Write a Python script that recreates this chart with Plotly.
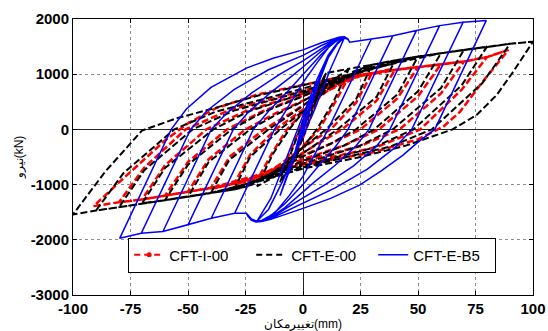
import plotly.graph_objects as go

# ---------------- data (mm, kN) ----------------
# CFT-E-B5 (blue): peaks of each cycle
BLUE_XPOS = [5, 10, 18, 29.7, 39.1, 49.3, 59.4, 69.6, 79.7]
BLUE_FPOS = [700, 1250, 1660, 1638, 1698, 1790, 1880, 1940, 1975]
BLUE_XNEG = [-5, -10, -20, -29.7, -39.9, -50, -60.9, -70.3, -79.7]
BLUE_FNEG = [-650, -1200, -1660, -1520, -1610, -1730, -1850, -1880, -1973]
# unloading branch vertices (from positive peak towards negative side)
BLUE_UNLOAD = [
    [(2, 250), (-1, -150)],
    [(5, 600), (0, -50), (-5, -650)],
    [(12, 1100), (5, 350), (-2, -300), (-9, -950), (-15, -1450)],
    [(10.9, 0), (6, -380), (0, -850), (-6, -1200), (-12, -1500), (-17, -1640), (-20, -1665), (-22.5, -1620), (-24, -1560), (-24.6, -1520)],
    [(19.6, 0), (14, -320), (6, -700), (0, -1000), (-8, -1350), (-14, -1560), (-18, -1650), (-20.5, -1668), (-22.5, -1630), (-24, -1565), (-24.6, -1520)],
    [(28.7, 0), (23, -300), (14, -650), (5, -950), (0, -1130), (-8, -1420), (-14, -1590), (-18, -1655), (-20.5, -1670), (-22.5, -1635), (-24, -1565), (-24.6, -1520)],
    [(37.8, 0), (32, -300), (22, -660), (10, -990), (0, -1240), (-8, -1450), (-14, -1600), (-18, -1660), (-20.5, -1672), (-22.5, -1638), (-24, -1568), (-24.6, -1520)],
    [(47.3, 0), (40, -330), (28, -720), (14, -1060), (0, -1340), (-8, -1510), (-14, -1615), (-18, -1665), (-20.5, -1675), (-22.5, -1640), (-24, -1570), (-24.6, -1520)],
    [(57.3, 0), (50, -230), (43.5, -465), (34, -750), (24.6, -1010), (12, -1250), (0, -1430), (-8, -1550), (-14, -1630), (-18, -1670), (-20.5, -1678), (-22.5, -1645), (-24, -1572), (-24.6, -1520)],
]
# reloading branch vertices (from negative peak towards positive side)
BLUE_RELOAD = [
    [(-2, -150), (1, 300)],
    [(-5, -600), (0, 50), (5, 650), (11, 1300), (15, 1550)],
    [(-14, -1250), (-7, -500), (0, 250), (6, 900), (11, 1350), (15, 1570), (17.4, 1665), (19.5, 1630), (20.3, 1578)],
    [(-12.4, 0), (-7, 370), (0, 850), (6, 1200), (11, 1480), (15, 1620), (17.4, 1668), (19.5, 1630), (20.3, 1578)],
    [(-21.6, 0), (-15, 330), (-6, 720), (0, 1000), (8, 1360), (13, 1560), (16, 1640), (17.8, 1668), (19.5, 1632), (20.3, 1578)],
    [(-30.3, 0), (-24, 300), (-14, 670), (-5, 960), (0, 1130), (8, 1420), (13, 1580), (16, 1650), (18, 1670), (19.5, 1634), (20.3, 1578)],
    [(-39.9, 0), (-33, 300), (-22, 670), (-10, 1000), (0, 1240), (8, 1470), (13, 1600), (16, 1658), (18, 1672), (19.5, 1636), (20.3, 1578)],
    [(-48.9, 0), (-42, 330), (-30, 720), (-15, 1080), (0, 1340), (8, 1520), (13, 1620), (16, 1665), (18, 1675), (19.5, 1638), (20.3, 1578)],
    [(-57.3, 0), (-50.7, 370), (-40, 760), (-24.6, 1110), (-13, 1290), (0, 1440), (8, 1570), (13, 1640), (16, 1672), (18, 1678), (19.5, 1640), (20.3, 1578)],
]

# CFT-E-00 (black)
BLACK_XPOS = [10, 20, 30, 40, 50, 60, 70, 80, 90, 100]
BLACK_FPOS = [1020, 1100, 1170, 1250, 1320, 1380, 1440, 1500, 1550, 1590]
BLACK_XNEG = [-10, -20, -30, -40, -50, -60, -70, -80, -90, -100]
BLACK_FNEG = [-960, -1030, -1090, -1150, -1220, -1280, -1340, -1410, -1470, -1540]
BLACK_UNLOAD = [
    [(5, 450), (0, -150), (-5, -650)],
    [(13, 480), (6, 0), (-3, -480), (-12, -850)],
    [(23, 540), (10, 0), (0, -330), (-12, -750), (-22, -1000)],
    [(32, 590), (15, 0), (5, -290), (-8, -660), (-25, -1040)],
    [(41, 630), (23, 0), (12, -260), (0, -490), (-15, -830), (-28, -1060)],
    [(50, 690), (31, 0), (18, -290), (0, -570), (-18, -890), (-33, -1100)],
    [(60, 750), (39, 0), (24, -310), (0, -620), (-20, -930), (-36, -1120)],
    [(69, 800), (48, 0), (30, -340), (0, -660), (-22, -960), (-38, -1130)],
    [(78, 840), (56, 0), (38, -310), (0, -690), (-22, -970), (-41, -1160)],
    [(91.4, 1045), (84.2, 623), (75.5, 261), (65, 0), (45, -290), (25, -500), (0, -710), (-20, -950), (-42, -1170)],
]
BLACK_RELOAD = [
    [(-5, -400), (0, 150), (5, 620)],
    [(-13, -440), (-6, 0), (3, 470), (12, 860)],
    [(-23, -500), (-10, 0), (0, 330), (12, 770), (22, 1050)],
    [(-32, -550), (-15, 0), (-5, 280), (8, 670), (26, 1090)],
    [(-41, -590), (-23, 0), (-12, 260), (0, 510), (15, 880), (27, 1130)],
    [(-50, -640), (-31, 0), (-18, 300), (0, 600), (18, 940), (34, 1180)],
    [(-60, -700), (-39, 0), (-24, 320), (0, 650), (20, 980), (37, 1210)],
    [(-69, -740), (-48, 0), (-30, 340), (0, 690), (24, 1020), (44, 1260)],
    [(-78, -790), (-56, 0), (-38, 320), (0, 740), (24, 1040), (47, 1280)],
    [(-86, -766), (-70, -20), (-55, 200), (-39, 380), (-19, 620), (0, 800), (20, 990), (40, 1200), (55, 1330)],
]

# CFT-I-00 (red)
RED_XPOS = [10, 20, 30, 40, 50, 60, 70, 80, 89.3]
RED_FPOS = [900, 960, 1020, 1080, 1130, 1180, 1230, 1310, 1440]
RED_XNEG = [-10, -20, -30, -40, -50, -60, -70, -80, -91]
RED_FNEG = [-850, -920, -990, -1060, -1130, -1200, -1270, -1320, -1390]
RED_UNLOAD = [
    [(5, 400), (0, -150), (-5, -580)],
    [(13, 420), (7, 0), (-3, -430), (-12, -760)],
    [(23, 480), (12, 0), (0, -330), (-12, -690), (-22, -920)],
    [(32, 520), (17, 0), (5, -290), (-8, -620), (-25, -950)],
    [(41, 560), (25, 0), (12, -260), (0, -470), (-15, -770), (-28, -980)],
    [(50, 600), (33, 0), (18, -290), (0, -540), (-18, -820), (-33, -1020)],
    [(60, 650), (42, 0), (25, -300), (0, -580), (-20, -860), (-36, -1040)],
    [(69, 720), (51, 0), (32, -320), (0, -620), (-22, -890), (-38, -1060)],
    [(77, 804), (68.3, 320), (61, 50), (50, -180), (30, -420), (0, -640), (-20, -830), (-39, -1050)],
]
RED_RELOAD = [
    [(-5, -350), (0, 150), (5, 560)],
    [(-13, -400), (-7, 0), (3, 440), (12, 800)],
    [(-23, -460), (-12, 0), (0, 360), (12, 740), (22, 950)],
    [(-32, -500), (-17, 0), (-5, 300), (8, 650), (26, 990)],
    [(-41, -540), (-25, 0), (-12, 290), (0, 520), (15, 830), (28, 1010)],
    [(-50, -590), (-33, 0), (-18, 320), (0, 610), (18, 900), (34, 1050)],
    [(-60, -650), (-42, 0), (-25, 330), (0, 650), (20, 930), (37, 1080)],
    [(-69, -690), (-51, 0), (-32, 350), (0, 700), (24, 960), (44, 1100)],
    [(-80, -960), (-71, -620), (-60, -200), (-50, 110), (-38, 380), (-20, 630), (0, 810), (20, 960), (40, 1080), (55, 1150)],
]

SERIES_NAMES = ["CFT-I-00", "CFT-E-00", "CFT-E-B5"]
X_TICKS = [-100, -75, -50, -25, 0, 25, 50, 75, 100]
Y_TICKS = [-3000, -2000, -1000, 0, 1000, 2000]


def build(xpos, fpos, xneg, fneg, unload, reload):
    X, Y = [0.0, xpos[0]], [0.0, fpos[0]]
    n = len(xpos)
    for i in range(n):
        for px, py in unload[i]:
            X.append(px); Y.append(py)
        last = X[-1]
        for j in range(i + 1):
            if xneg[i] <= xneg[j] < last:
                X.append(xneg[j]); Y.append(fneg[j])
        for px, py in reload[i]:
            X.append(px); Y.append(py)
        last = X[-1]
        t = min(i + 1, n - 1)
        for j in range(t + 1):
            if last < xpos[j] <= xpos[t]:
                X.append(xpos[j]); Y.append(fpos[j])
    return X, Y


rx, ry = build(RED_XPOS, RED_FPOS, RED_XNEG, RED_FNEG, RED_UNLOAD, RED_RELOAD)
kx, ky = build(BLACK_XPOS, BLACK_FPOS, BLACK_XNEG, BLACK_FNEG, BLACK_UNLOAD, BLACK_RELOAD)
bx, by = build(BLUE_XPOS, BLUE_FPOS, BLUE_XNEG, BLUE_FNEG, BLUE_UNLOAD, BLUE_RELOAD)

RED = "#ff0000"
BLACK = "#000000"
BLUE = "#0000ff"
DASH = "7px,3px"
FONT = "Liberation Sans, Arial, sans-serif"

fig = go.Figure()
fig.add_trace(go.Scatter(x=rx, y=ry, mode="lines", showlegend=False,
                         line=dict(color=RED, width=2.5, dash=DASH)))
fig.add_trace(go.Scatter(x=kx, y=ky, mode="lines", showlegend=False,
                         line=dict(color=BLACK, width=2, dash=DASH)))
fig.add_trace(go.Scatter(x=bx, y=by, mode="lines", showlegend=False,
                         line=dict(color=BLUE, width=1.5)))
# legend entries
fig.add_trace(go.Scatter(x=[None], y=[None], mode="lines+markers", name=SERIES_NAMES[0],
                         line=dict(color=RED, width=2, dash="6px,4px"),
                         marker=dict(color=RED, size=5)))
fig.add_trace(go.Scatter(x=[None], y=[None], mode="lines", name=SERIES_NAMES[1],
                         line=dict(color=BLACK, width=2, dash="6px,4px")))
fig.add_trace(go.Scatter(x=[None], y=[None], mode="lines", name=SERIES_NAMES[2],
                         line=dict(color=BLUE, width=1.5)))

axis_common = dict(
    showline=True, linecolor="#000000", linewidth=1, mirror="ticks",
    ticks="inside", ticklen=4, tickcolor="#000000",
    showgrid=True, gridcolor="#8c8c8c", griddash="dot", gridwidth=1,
    zeroline=True, zerolinecolor="#222222", zerolinewidth=1,
    tickfont=dict(family=FONT, size=15, color="#000000", weight="bold"),
    automargin=False,
)

fig.update_layout(
    width=548, height=331,
    margin=dict(l=73, r=15, t=19, b=36),
    paper_bgcolor="white", plot_bgcolor="white",
    font=dict(family=FONT, color="#000000"),
    xaxis=dict(range=[-100, 100], tickvals=X_TICKS, ticktext=[str(v) for v in X_TICKS],
               title=dict(text="تغییرمکان(mm)", font=dict(size=12), standoff=0), **axis_common),
    yaxis=dict(range=[-3000, 2000], tickvals=Y_TICKS, ticktext=[str(v) for v in Y_TICKS],
               title=dict(text="نیرو(kN)", font=dict(size=12), standoff=4), **axis_common),
    legend=dict(orientation="h", x=0.12, y=0.208, xanchor="left", yanchor="top",
                bordercolor="#000000", borderwidth=1, bgcolor="white",
                font=dict(size=15, family=FONT),
                entrywidth=77, tracegroupgap=0),
    showlegend=True,
)

fig.write_html("out.html")
